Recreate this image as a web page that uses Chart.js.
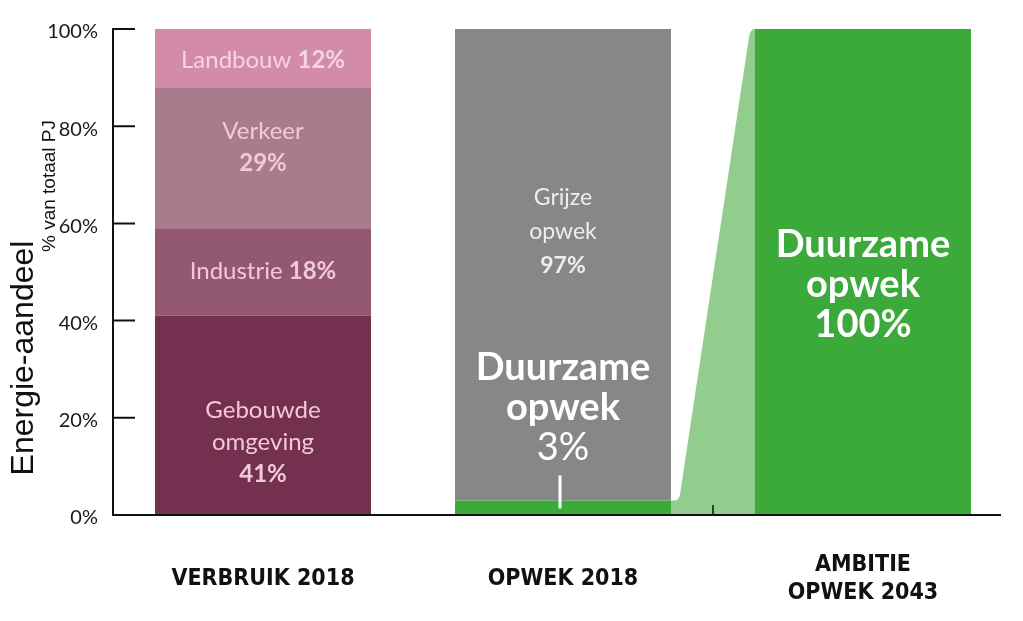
<!DOCTYPE html>
<html><head><meta charset="utf-8">
<script src="https://cdn.jsdelivr.net/npm/chart.js@4"></script>
<style>html,body{margin:0;padding:0;background:#fff;}</style>
</head><body>
<canvas id="c" width="1023" height="621"></canvas>
<script>
// ---- data ----
const categories = ['VERBRUIK 2018', 'OPWEK 2018', ['AMBITIE', 'OPWEK 2043']];
const gebouwdeOmgeving = [41, 0, 0];
const industrie = [18, 0, 0];
const verkeer = [29, 0, 0];
const landbouw = [12, 0, 0];
const duurzameOpwek = [0, 3, 100];
const grijzeOpwek = [0, 97, 0];
const yTickValues = [0, 20, 40, 60, 80, 100];
const yTitle = 'Energie-aandeel';
const yUnit = '% van totaal PJ';
// segment label texts: [text, bold]
const labelGebouwde = [[['Gebouwde', false]], [['omgeving', false]], [['41%', true]]];
const labelIndustrie = [[['Industrie ', false], ['18%', true]]];
const labelVerkeer = [[['Verkeer', false]], [['29%', true]]];
const labelLandbouw = [[['Landbouw ', false], ['12%', true]]];
const labelGrijs = [[['Grijze', false]], [['opwek', false]], [['97%', true]]];
const labelDuurzaam2018 = [[['Duurzame', true]], [['opwek', true]], [['3%', false]]];
const labelDuurzaam2043 = [[['Duurzame', true]], [['opwek', true]], [['100%', true]]];

// ---- styles ----
const C = {
  geb: '#74314f', ind: '#935872', ver: '#a97b8b', land: '#d28ba8',
  green: '#3caa3a', grey: '#878787', light: '#93cd8e'
};
const FONT = 'Lato, "Open Sans", sans-serif';

// label placement: dataset index, data index, text, dy (px from segment centre), size, line height, color
const segLabels = [
  {ds: 0, i: 0, text: labelGebouwde, dy: 27, size: 24, lh: 32, color: '#f2c8da'},
  {ds: 1, i: 0, text: labelIndustrie, dy: -1, size: 24, lh: 32, color: '#f2c8da'},
  {ds: 2, i: 0, text: labelVerkeer, dy: -11, size: 24, lh: 32, color: '#f2c8da'},
  {ds: 3, i: 0, text: labelLandbouw, dy: 2, size: 24, lh: 32, color: '#f6d3e2'},
  {ds: 5, i: 1, text: labelGrijs, dy: -33, size: 23, lh: 34, color: '#eeeeee'},
  {ds: 4, i: 1, text: labelDuurzaam2018, dy: -100, size: 38, lh: 40, color: '#ffffff'},
  {ds: 4, i: 2, text: labelDuurzaam2043, dy: 13, size: 38, lh: 40, color: '#ffffff'}
];

const bridgePlugin = {
  id: 'bridge',
  beforeDatasetsDraw(chart) {
    const ctx = chart.ctx;
    const meta = chart.getDatasetMeta(4);
    const a = meta.data[1], b = meta.data[2];
    const base = chart.scales.y.getPixelForValue(0);
    const x1 = a.x + a.width / 2, y1 = a.y;
    const x2 = b.x - b.width / 2, y2 = b.y;
    ctx.save();
    ctx.fillStyle = C.light;
    ctx.beginPath();
    ctx.moveTo(x1, base);
    ctx.lineTo(x1, y1);
    ctx.lineTo(x1 + 3, y1);
    ctx.quadraticCurveTo(x1 + 8, y1, x1 + 9, y1 - 6);
    ctx.lineTo(x2 - 6, y2 + 8);
    ctx.quadraticCurveTo(x2 - 5, y2, x2, y2);
    ctx.lineTo(x2, base);
    ctx.closePath();
    ctx.fill();
    ctx.restore();
  }
};

const axesPlugin = {
  id: 'axesDraw',
  afterDatasetsDraw(chart) {
    const ctx = chart.ctx, y = chart.scales.y, x = chart.scales.x;
    const ca = chart.chartArea;
    const top = y.getPixelForValue(100), bot = y.getPixelForValue(0);
    ctx.save();
    ctx.strokeStyle = '#111';
    ctx.lineWidth = 2;
    ctx.beginPath();
    ctx.moveTo(ca.left, top - 1); ctx.lineTo(ca.left, bot + 1);
    ctx.moveTo(ca.left - 1, bot); ctx.lineTo(ca.right - 12, bot);
    yTickValues.forEach(v => {
      const py = y.getPixelForValue(v);
      if (v > 0) { ctx.moveTo(ca.left, py); ctx.lineTo(ca.left + 22, py); }
    });
    ctx.stroke();
    // category boundary tick between 2nd and 3rd
    const bx = (x.getPixelForValue(1) + x.getPixelForValue(2)) / 2;
    ctx.lineWidth = 1.5;
    ctx.beginPath(); ctx.moveTo(bx, bot); ctx.lineTo(bx, bot - 10); ctx.stroke();
    // white marker line at 3%
    const m = chart.getDatasetMeta(4).data[1];
    ctx.strokeStyle = '#ffffff';
    ctx.lineWidth = 3;
    ctx.beginPath(); ctx.moveTo(m.x - 3, m.y - 25); ctx.lineTo(m.x - 3, m.y + 8); ctx.stroke();
    // y titles
    ctx.fillStyle = '#111';
    ctx.textAlign = 'center';
    ctx.textBaseline = 'middle';
    ctx.save();
    ctx.translate(24, 358); ctx.rotate(-Math.PI / 2);
    ctx.font = '32px "Liberation Sans", Arial, sans-serif';
    ctx.fillText(yTitle, 0, 0);
    ctx.restore();
    ctx.save();
    ctx.translate(50, 186); ctx.rotate(-Math.PI / 2);
    ctx.font = '19px "Liberation Sans", Arial, sans-serif';
    ctx.fillText(yUnit, 0, 0);
    ctx.restore();
    ctx.restore();
  }
};

const labelPlugin = {
  id: 'segLabels',
  afterDatasetsDraw(chart) {
    const ctx = chart.ctx;
    ctx.save();
    ctx.textBaseline = 'middle';
    ctx.textAlign = 'left';
    segLabels.forEach(L => {
      const el = chart.getDatasetMeta(L.ds).data[L.i];
      const cy = (el.y + el.base) / 2 + L.dy;
      const n = L.text.length;
      L.text.forEach((line, k) => {
        const ly = cy + (k - (n - 1) / 2) * L.lh;
        let w = 0;
        line.forEach(([t, b]) => { ctx.font = (b ? 'bold ' : '') + L.size + 'px ' + FONT; w += ctx.measureText(t).width; });
        let lx = el.x - w / 2;
        ctx.fillStyle = L.color;
        line.forEach(([t, b]) => {
          ctx.font = (b ? 'bold ' : '') + L.size + 'px ' + FONT;
          ctx.fillText(t, lx, ly);
          lx += ctx.measureText(t).width;
        });
      });
    });
    ctx.restore();
  }
};

const ds = (label, data, color) => ({label, data, backgroundColor: color, borderWidth: 0,
  categoryPercentage: 1, barPercentage: 0.72});

new Chart(document.getElementById('c'), {
  type: 'bar',
  data: {
    labels: categories,
    datasets: [
      ds('Gebouwde omgeving', gebouwdeOmgeving, C.geb),
      ds('Industrie', industrie, C.ind),
      ds('Verkeer', verkeer, C.ver),
      ds('Landbouw', landbouw, C.land),
      ds('Duurzame opwek', duurzameOpwek, C.green),
      ds('Grijze opwek', grijzeOpwek, C.grey)
    ]
  },
  options: {
    responsive: false,
    animation: false,
    layout: {padding: {top: 29, right: 10, left: 0, bottom: 0}},
    plugins: {legend: {display: false}, tooltip: {enabled: false}},
    scales: {
      x: {
        stacked: true,
        grid: {display: false, drawTicks: false},
        border: {display: false},
        ticks: {
          color: '#111', padding: 50, crossAlign: 'center', maxRotation: 0, autoSkip: false,
          font: {family: '"DejaVu Sans Condensed", "Liberation Sans Narrow", sans-serif', weight: 'bold', size: 23}
        },
        afterFit(s) { s.height = 106; }
      },
      y: {
        stacked: true, min: 0, max: 100,
        afterBuildTicks(s) { s.ticks = yTickValues.map(v => ({value: v})); },
        grid: {display: false, drawTicks: false},
        border: {display: false},
        ticks: {
          color: '#1a1a1a', padding: 15, labelOffset: 3,
          callback: v => v + '%',
          font: {family: FONT, size: 20}
        },
        afterFit(s) { s.width = 113; }
      }
    }
  },
  plugins: [bridgePlugin, axesPlugin, labelPlugin]
});
</script>
</body></html>
